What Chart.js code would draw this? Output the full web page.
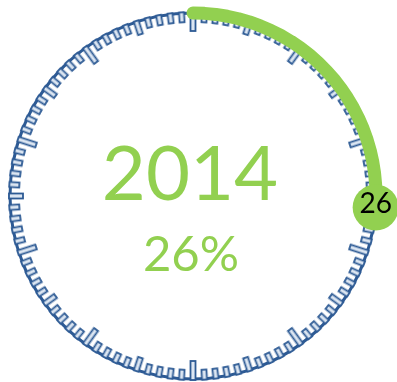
<!DOCTYPE html>
<html>
<head>
<meta charset="utf-8">
<script src="https://cdn.jsdelivr.net/npm/chart.js@4.4.1/dist/chart.umd.min.js"></script>
<style>
  html, body { margin: 0; padding: 0; background: #fff; }
  #wrap { width: 397px; height: 382px; }
</style>
</head>
<body>
<div id="wrap"><canvas id="gauge"></canvas></div>
<script>
// dial marks, clockwise from 12 o'clock: 3 = major, 2 = half, 1 = minor
const tickKinds = [
  3, 1, 1, 1, 1, 2, 1, 1, 1, 1,
  3, 1, 1, 1, 1, 2, 1, 1, 1, 1,
  3, 1, 1, 1, 1, 2, 1, 1, 1, 1,
  3, 1, 1, 1, 1, 2, 1, 1, 1, 1,
  3, 1, 1, 1, 1, 2, 1, 1, 1, 1,
  3, 1, 1, 1, 1, 2, 1, 1, 1, 1,
  3, 1, 1, 1, 1, 2, 1, 1, 1, 1,
  3, 1, 1, 1, 1, 2, 1, 1, 1, 1,
  3, 1, 1, 1, 1, 2, 1, 1, 1, 1,
  3, 1, 1, 1, 1, 2, 1, 1, 1, 1
];
const yearLabel = '2014';
const percent = 26;

const green = '#92d050';
const navy = '#2d5a94';
const tickFill = '#dce6f2';
const tickLength = { 1: 10, 2: 14, 3: 19 };

// a tick sprite centred on the dial ring, the mark itself runs inward (down)
function makeTick(len) {
  const c = document.createElement('canvas');
  c.width = 8;
  c.height = (len + 2) * 2;
  const g = c.getContext('2d');
  const top = c.height / 2 - 1;
  g.fillStyle = tickFill;
  g.strokeStyle = navy;
  g.lineWidth = 1.8;
  g.fillRect(1.5, top, 5, len);
  g.strokeRect(1.5, top, 5, len);
  return c;
}

const tickImages = {};
Object.keys(tickLength).forEach(k => { tickImages[k] = makeTick(tickLength[k]); });

const labels = tickKinds.map((_, i) => i);

const centerText = {
  id: 'centerText',
  afterDatasetsDraw(chart) {
    const { ctx } = chart;
    const r = chart.scales.r;
    ctx.save();
    ctx.fillStyle = green;
    ctx.textAlign = 'center';
    ctx.textBaseline = 'alphabetic';
    ctx.font = '76px Lato';
    ctx.fillText(yearLabel, r.xCenter - 3, r.yCenter + 4);
    ctx.font = '49px Lato';
    ctx.fillText(percent + '%', r.xCenter - 2, r.yCenter + 75);

    // value inside the bubble at the end of the arc
    const end = chart.getDatasetMeta(0).data[percent];
    ctx.fillStyle = '#000';
    ctx.font = '28px Lato';
    ctx.fillText(String(percent), end.x, end.y + 6);
    ctx.restore();
  }
};

new Chart(document.getElementById('gauge'), {
  type: 'radar',
  data: {
    labels: labels,
    datasets: [
      {
        // progress arc
        data: labels.map(i => (i <= percent ? 100 : null)),
        borderColor: green,
        borderWidth: 13,
        borderCapStyle: 'round',
        borderJoinStyle: 'round',
        fill: false,
        spanGaps: false,
        pointRadius: ctx => (ctx.dataIndex === percent ? 23 : 0),
        pointBackgroundColor: green,
        pointBorderWidth: 0,
        clip: false
      },
      {
        // dial ticks
        data: tickKinds.map(() => 100),
        showLine: false,
        fill: false,
        backgroundColor: 'transparent',
        pointStyle: ctx => tickImages[tickKinds[ctx.dataIndex]],
        pointRotation: ctx => ctx.dataIndex * 360 / tickKinds.length,
        clip: false
      }
    ]
  },
  options: {
    responsive: true,
    maintainAspectRatio: false,
    animation: false,
    events: [],
    layout: { padding: { left: 10, right: 21, top: 13, bottom: 3 } },
    plugins: {
      legend: { display: false },
      tooltip: { enabled: false }
    },
    scales: {
      r: {
        min: 0,
        max: 100,
        ticks: { display: false, stepSize: 100 },
        pointLabels: { display: false },
        angleLines: { display: false },
        grid: { circular: true, color: navy, lineWidth: 3 }
      }
    }
  },
  plugins: [centerText]
});
</script>
</body>
</html>
